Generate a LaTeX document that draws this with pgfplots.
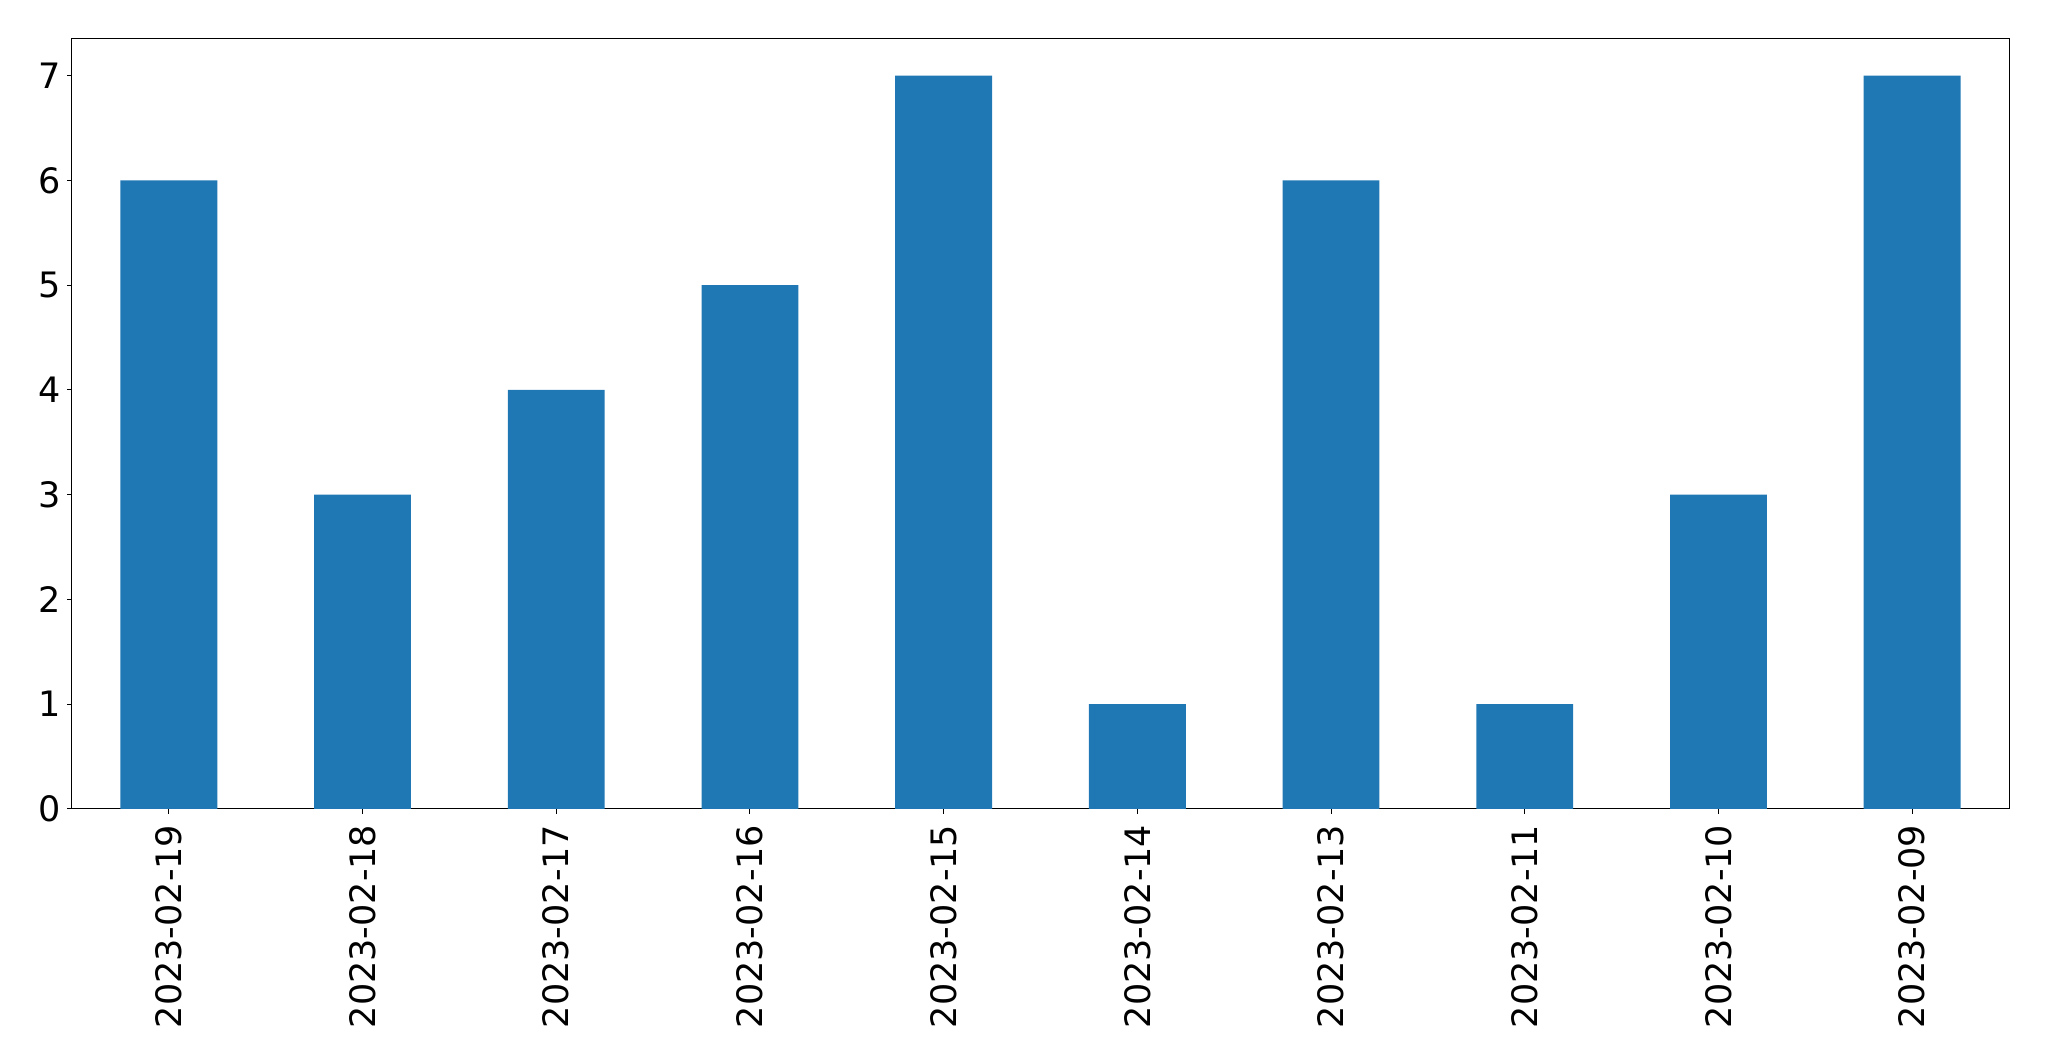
\documentclass[border=0pt]{standalone}
\usepackage{fontspec}
\setmainfont{DejaVu Sans}
\usepackage{pgfplots}
\pgfplotsset{compat=1.18}
\definecolor{barblue}{HTML}{1F77B4}

\begin{document}
\begin{tikzpicture}
\begin{axis}[
  scale only axis,
  width=968.5pt,
  height=385pt,
  xmin=-0.5, xmax=9.5,
  ymin=0, ymax=7.35,
  xtick=data,
  xticklabels={2023-02-19,2023-02-18,2023-02-17,2023-02-16,2023-02-15,2023-02-14,2023-02-13,2023-02-11,2023-02-10,2023-02-09},
  ytick={0,1,2,3,4,5,6,7},
  tick align=outside,
  major tick length=2.4pt,
  tick style={black, line width=0.5pt},
  axis line style={line width=0.5pt},
  xtick pos=bottom,
  ytick pos=left,
  xticklabel style={rotate=90, anchor=east, inner sep=0pt, outer sep=0pt, xshift=-5.5pt},
  yticklabel style={inner sep=0pt, xshift=-3pt},
  tick label style={font=\fontsize{17.5}{21}\selectfont},
  /pgf/number format/assume math mode=true,
  ybar,
  bar width=0.5,
]
\addplot[fill=barblue, draw=none] coordinates {
  (0,6) (1,3) (2,4) (3,5) (4,7) (5,1) (6,6) (7,1) (8,3) (9,7)
};
\end{axis}
\path ([shift={(-36pt,-126pt)}]current axis.south west) rectangle ([shift={(20pt,19.5pt)}]current axis.north east);
\end{tikzpicture}
\end{document}
